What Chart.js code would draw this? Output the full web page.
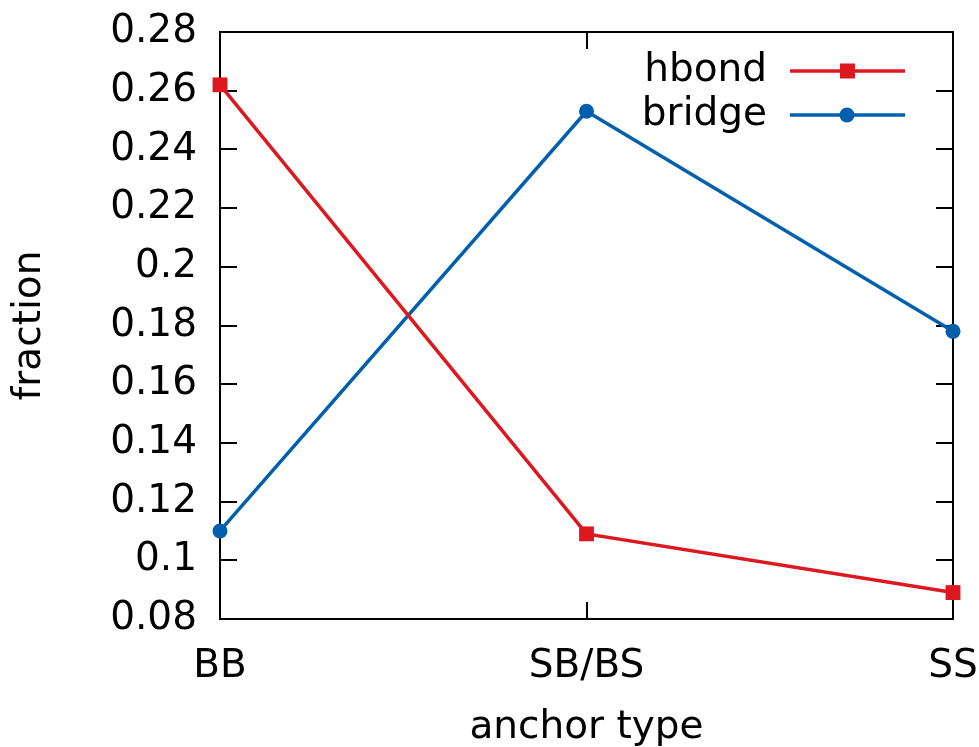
<!DOCTYPE html>
<html>
<head>
<meta charset="utf-8">
<script src="https://cdn.jsdelivr.net/npm/chart.js@4.4.1/dist/chart.umd.min.js"></script>
<style>
  html, body { margin: 0; padding: 0; background: #fff; }
  #wrap { width: 979px; height: 747px; }
</style>
</head>
<body>
<div id="wrap"><canvas id="fracChart" width="979" height="747"></canvas></div>
<script>
// categorias e séries
const anchorTypes = ['BB', 'SB/BS', 'SS'];
const hbondFrac = [0.262, 0.109, 0.089];
const bridgeFrac = [0.110, 0.253, 0.178];
const yTickValues = [0.08, 0.10, 0.12, 0.14, 0.16, 0.18, 0.20, 0.22, 0.24, 0.26, 0.28];

const RED = '#dd181f';
const BLUE = '#0060ad';
const FONT = '"DejaVu Sans", sans-serif';
const LINE_W = 3.5;

// moldura estilo gnuplot com ticks para dentro
const framePlugin = {
    id: 'frame',
    beforeDatasetsDraw(chart) {
        const { ctx, chartArea: a, scales } = chart;
        const tl = 17;
        ctx.save();
        ctx.strokeStyle = '#000';
        ctx.lineWidth = 2;
        ctx.beginPath();
        yTickValues.forEach(v => {
            const y = Math.round(scales.y.getPixelForValue(v));
            ctx.moveTo(a.left, y); ctx.lineTo(a.left + tl, y);
            ctx.moveTo(a.right, y); ctx.lineTo(a.right - tl, y);
        });
        anchorTypes.forEach((_, i) => {
            const x = Math.round(scales.x.getPixelForValue(i));
            ctx.moveTo(x, a.bottom); ctx.lineTo(x, a.bottom - tl);
            ctx.moveTo(x, a.top); ctx.lineTo(x, a.top + tl);
        });
        ctx.stroke();
        ctx.strokeRect(a.left, a.top, a.right - a.left, a.bottom - a.top);
        ctx.restore();
    }
};

// legenda no canto superior direito
const keyPlugin = {
    id: 'key',
    afterDraw(chart) {
        const { ctx } = chart;
        ctx.save();
        ctx.font = '39px ' + FONT;
        ctx.textAlign = 'right';
        ctx.textBaseline = 'middle';
        chart.data.datasets.forEach((ds, i) => {
            const y = 71 + i * 44;
            ctx.fillStyle = '#000';
            ctx.fillText(ds.label, 767, y);
            ctx.strokeStyle = ds.borderColor;
            ctx.lineWidth = LINE_W;
            ctx.beginPath();
            ctx.moveTo(790, y); ctx.lineTo(905, y);
            ctx.stroke();
            ctx.fillStyle = ds.borderColor;
            if (ds.pointStyle === 'rect') {
                ctx.fillRect(840, y - 7.5, 15, 15);
            } else {
                ctx.beginPath();
                ctx.arc(847, y, 7.5, 0, Math.PI * 2);
                ctx.fill();
            }
        });
        ctx.restore();
    }
};

// sem folga extra para os rótulos das pontas
const noLabelPadding = scale => {
    scale.paddingTop = 0;
    scale.paddingBottom = 0;
    scale.paddingLeft = 0;
    scale.paddingRight = 0;
};

Chart.defaults.font.family = FONT;
Chart.defaults.font.size = 39;
Chart.defaults.color = '#000';

new Chart(document.getElementById('fracChart'), {
    type: 'line',
    data: {
        labels: anchorTypes,
        datasets: [{
            label: 'hbond',
            data: hbondFrac,
            borderColor: RED,
            backgroundColor: RED,
            borderWidth: LINE_W,
            pointStyle: 'rect',
            pointRadius: 10.5,
            pointBorderWidth: 0,
            clip: false
        }, {
            label: 'bridge',
            data: bridgeFrac,
            borderColor: BLUE,
            backgroundColor: BLUE,
            borderWidth: LINE_W,
            pointStyle: 'circle',
            pointRadius: 7.5,
            pointBorderWidth: 0,
            clip: false
        }]
    },
    options: {
        responsive: false,
        animation: false,
        layout: { padding: { top: 32, right: 26, left: 0, bottom: 0 } },
        plugins: { legend: { display: false }, tooltip: { enabled: false } },
        scales: {
            x: {
                type: 'category',
                offset: false,
                grid: { display: false, drawTicks: false },
                border: { display: false },
                ticks: { padding: 24, maxRotation: 0, autoSkip: false },
                title: {
                    display: true, text: 'anchor type',
                    font: { lineHeight: 1 },
                    padding: { top: 0, bottom: 0 }
                },
                afterFit: scale => { scale.height = 128; noLabelPadding(scale); }
            },
            y: {
                min: 0.08,
                max: 0.28,
                grid: { display: false, drawTicks: false },
                border: { display: false },
                afterBuildTicks: scale => { scale.ticks = yTickValues.map(v => ({ value: v })); },
                ticks: {
                    padding: 23,
                    callback: v => String(Number(v.toFixed(2)))
                },
                title: {
                    display: true, text: 'fraction',
                    font: { lineHeight: 1 },
                    padding: { top: 10, bottom: 0 }
                },
                afterFit: scale => { scale.width = 220; noLabelPadding(scale); }
            }
        }
    },
    plugins: [framePlugin, keyPlugin]
});
</script>
</body>
</html>
